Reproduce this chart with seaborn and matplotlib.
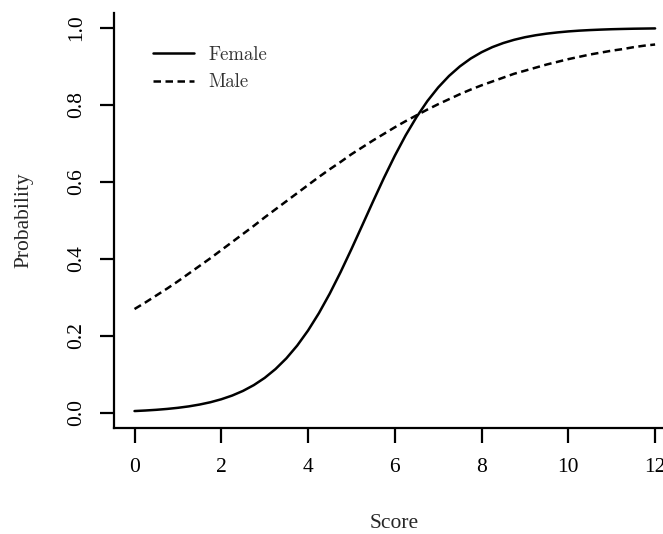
import pandas as pd
import seaborn as sns
import matplotlib
matplotlib.use("Agg")
import matplotlib.pyplot as plt
from matplotlib.lines import Line2D

# Values (every quarter point of score)
score = [i / 4 for i in range(49)]
female = [0.0050, 0.0064, 0.0082, 0.0105, 0.0134, 0.0171, 0.0219, 0.0279,
          0.0356, 0.0452, 0.0573, 0.0724, 0.0911, 0.1141, 0.1419, 0.1751,
          0.2142, 0.2592, 0.3100, 0.3659, 0.4256, 0.4875, 0.5498, 0.6107,
          0.6682, 0.7211, 0.7685, 0.8100, 0.8455, 0.8754, 0.9002, 0.9206,
          0.9370, 0.9503, 0.9608, 0.9692, 0.9759, 0.9811, 0.9852, 0.9884,
          0.9910, 0.9930, 0.9945, 0.9957, 0.9967, 0.9974, 0.9980, 0.9984,
          0.9988]
male = [0.270, 0.287, 0.305, 0.323, 0.342, 0.362, 0.382, 0.402, 0.423,
        0.444, 0.465, 0.486, 0.508, 0.529, 0.550, 0.571, 0.592, 0.613,
        0.633, 0.652, 0.672, 0.690, 0.708, 0.725, 0.742, 0.758, 0.773,
        0.788, 0.802, 0.815, 0.828, 0.840, 0.851, 0.861, 0.871, 0.881,
        0.889, 0.897, 0.905, 0.912, 0.919, 0.925, 0.931, 0.936, 0.941,
        0.945, 0.950, 0.954, 0.957]
x_ticks = [0, 2, 4, 6, 8, 10, 12]
y_ticks = [0.0, 0.2, 0.4, 0.6, 0.8, 1.0]

df = pd.DataFrame({
    "Score": score * 2,
    "Probability": female + male,
    "Sex": ["Female"] * len(score) + ["Male"] * len(score),
})

sns.set_style("ticks")
plt.rcParams["font.family"] = ["Liberation Serif", "DejaVu Serif"]

fig = plt.figure(figsize=(6.63, 5.34), dpi=100)
# axes run past the right edge, the reference is cropped there
ax = fig.add_axes([0.1715, 0.1978, 0.848, 0.7787])

dash = (0, (3.0, 1.8))
sns.lineplot(data=df[df["Sex"] == "Female"], x="Score", y="Probability",
             color="black", linewidth=1.8, ax=ax)
sns.lineplot(data=df[df["Sex"] == "Male"], x="Score", y="Probability",
             color="black", linewidth=1.8, linestyle=dash, ax=ax)

ax.set_xlim(-0.48, 12.48)
ax.set_ylim(-0.04, 1.04)
ax.set_xticks(x_ticks)
ax.set_xticklabels([str(t) for t in x_ticks])
ax.set_yticks(y_ticks)
ax.set_yticklabels([f"{t:.1f}" for t in y_ticks], rotation=90, va="center")

for side in ["top", "right"]:
    ax.spines[side].set_visible(False)
for side in ["left", "bottom"]:
    ax.spines[side].set_linewidth(1.6)
    ax.spines[side].set_color("black")

ax.tick_params(axis="x", length=10.5, width=1.6, pad=11, labelsize=15.5, colors="black")
ax.tick_params(axis="y", length=10, width=1.6, pad=10, labelsize=15.5, colors="black")

ax.set_xlabel("Score", fontsize=15.5)
ax.set_ylabel("Probability", fontsize=15.5)
ax.xaxis.set_label_coords(0.4985, -0.207)
ax.yaxis.set_label_coords(-0.143, 0.5)

handles = [Line2D([], [], color="black", linewidth=1.8),
           Line2D([], [], color="black", linewidth=1.8, linestyle=dash)]
ax.legend(handles, ["Female", "Male"], loc="upper left",
          bbox_to_anchor=(0.04, 0.96), frameon=False, handlelength=2.2,
          handletextpad=0.75, labelspacing=0.5,
          prop={"family": "cmr10", "size": 13.5}, labelcolor="#333333")

fig.savefig("out.png", dpi=100)
